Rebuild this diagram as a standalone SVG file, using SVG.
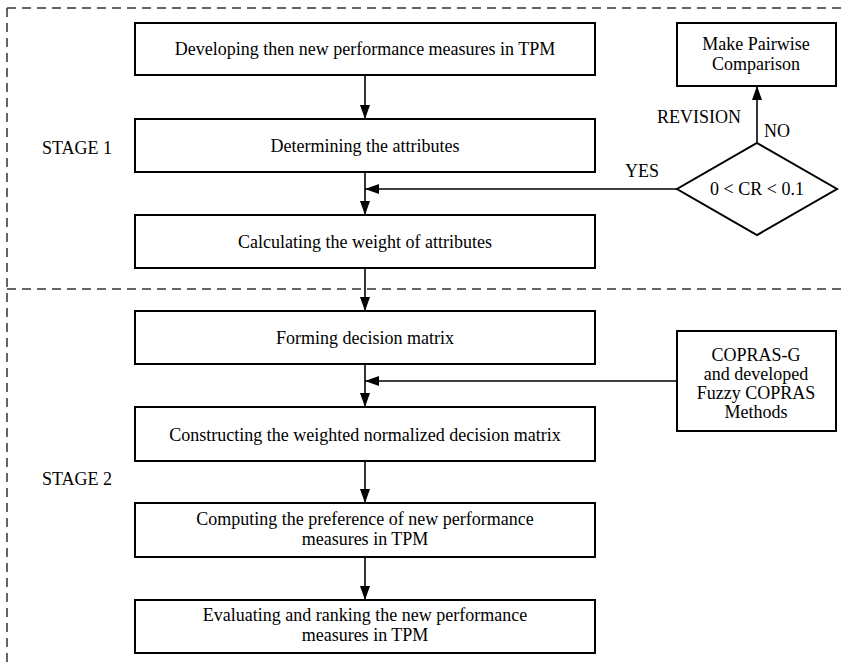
<svg xmlns="http://www.w3.org/2000/svg" width="844" height="667" viewBox="0 0 844 667">
<defs>
<marker id="ah" viewBox="0 0 14 10" refX="14" refY="5" markerWidth="14" markerHeight="10" markerUnits="userSpaceOnUse" orient="auto">
<path d="M0,0 L14,5 L0,10 Z" fill="#000"/>
</marker>
</defs>
<style>
.box{fill:#fff;stroke:#000;stroke-width:2}
.dash{fill:none;stroke:#333;stroke-width:1.5;stroke-dasharray:9 6}
text{font-family:'Liberation Serif','Times New Roman',Times,'DejaVu Serif',serif;font-size:18px;fill:#000}
.c{text-anchor:middle}
.ln{fill:none;stroke:#000;stroke-width:1.6}
</style>
<rect width="844" height="667" fill="#fff"/>
<g id="borders">
<path class="dash" d="M7,8 H844"/>
<path class="dash" d="M7,289 H844"/>
<path class="dash" d="M7,8 V667"/>
</g>
<g id="labels">
<text x="42" y="154">STAGE 1</text>
<text x="42" y="485">STAGE 2</text>
<text x="657" y="123">REVISION</text>
<text x="764" y="137">NO</text>
<text x="625" y="177">YES</text>
</g>
<g id="connectors">
<path class="ln" d="M365,75 V119" marker-end="url(#ah)"/>
<path class="ln" d="M365,172 V215" marker-end="url(#ah)"/>
<path class="ln" d="M677,189 H365" marker-end="url(#ah)"/>
<path class="ln" d="M757,143 V86" marker-end="url(#ah)"/>
<path class="ln" d="M365,268 V311" marker-end="url(#ah)"/>
<path class="ln" d="M365,364 V407" marker-end="url(#ah)"/>
<path class="ln" d="M677,381 H365" marker-end="url(#ah)"/>
<path class="ln" d="M365,461 V503" marker-end="url(#ah)"/>
<path class="ln" d="M365,557 V600" marker-end="url(#ah)"/>
</g>
<g id="n1"><rect class="box" x="135" y="23" width="460" height="52"/><text class="c" x="365" y="55">Developing then new performance measures in TPM</text></g>
<g id="n2"><rect class="box" x="135" y="119" width="460" height="53"/><text class="c" x="365" y="152">Determining the attributes</text></g>
<g id="n3"><rect class="box" x="135" y="215" width="460" height="53"/><text class="c" x="365" y="248">Calculating the weight of attributes</text></g>
<g id="n4"><rect class="box" x="135" y="311" width="460" height="53"/><text class="c" x="365" y="344">Forming decision matrix</text></g>
<g id="n5"><rect class="box" x="135" y="407" width="460" height="54"/><text class="c" x="365" y="441">Constructing the weighted normalized decision matrix</text></g>
<g id="n6"><rect class="box" x="135" y="503" width="460" height="54"/><text class="c" x="365" y="525">Computing the preference of new performance</text><text class="c" x="365" y="545">measures in TPM</text></g>
<g id="n7"><rect class="box" x="135" y="600" width="460" height="53"/><text class="c" x="365" y="621">Evaluating and ranking the new performance</text><text class="c" x="365" y="641">measures in TPM</text></g>
<g id="pairwise"><rect class="box" x="677" y="23" width="159" height="63"/><text class="c" x="756" y="50">Make Pairwise</text><text class="c" x="756" y="70">Comparison</text></g>
<g id="decision"><path class="box" d="M757,143 L837,189 L757,235 L677,189 Z"/><text class="c" x="757" y="195">0 &lt; CR &lt; 0.1</text></g>
<g id="copras"><rect class="box" x="677" y="331" width="159" height="100"/><text class="c" x="756" y="361">COPRAS-G</text><text class="c" x="756" y="380">and developed</text><text class="c" x="756" y="399">Fuzzy COPRAS</text><text class="c" x="756" y="418">Methods</text></g>
</svg>
